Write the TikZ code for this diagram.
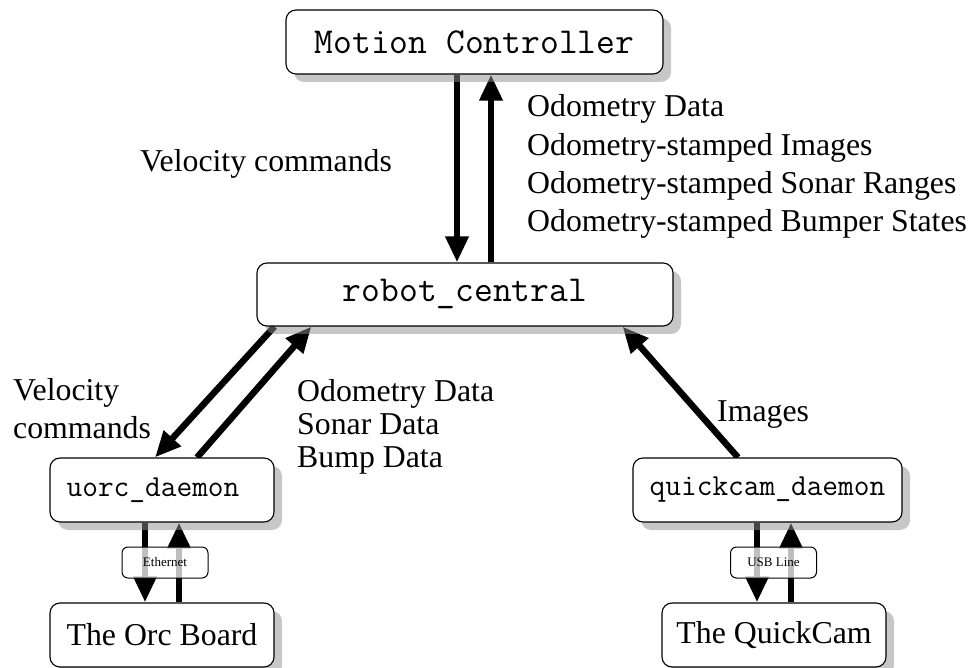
\documentclass[tikz,border=0pt]{standalone}
\usepackage{fontspec}
\setmainfont{Liberation Serif}
\usetikzlibrary{arrows.meta,shadows,backgrounds}
\tikzset{
  box/.style={draw=black, line width=1.1pt, rounded corners=10pt, fill=white,
    inner sep=0pt, minimum height=64pt,
    drop shadow={shadow xshift=8pt, shadow yshift=-8pt, fill=black!44, fill opacity=0.5}},
  bigmono/.style={font=\ttfamily\fontsize{36.5}{40}\selectfont},
  smallmono/.style={font=\ttfamily\fontsize{30.5}{34}\selectfont},
  serifbox/.style={font=\fontsize{31.8}{36}\selectfont},
  linkbox/.style={draw=black, line width=1pt, rounded corners=6pt, fill=white,
    fill opacity=0.75, text opacity=1, inner sep=0pt, minimum width=86pt,
    minimum height=31pt, font=\fontsize{13}{15}\selectfont},
  lbl/.style={font=\fontsize{31.8}{36}\selectfont, inner sep=0pt},
  flow/.style={line width=6.5pt, -{Triangle[length=26pt,width=22pt]}}
}
\begin{document}
\begin{tikzpicture}[x=1pt,y=1pt]
\useasboundingbox (0,0) rectangle (975,-668);
% boxes
\node[box, bigmono, minimum width=377pt] (mc) at (474.5,-42) {Motion Controller};
\node[box, bigmono, minimum width=416pt, minimum height=63pt] (rc) at (465,-294.5) {robot\_central};
\node[box, smallmono, minimum width=224pt] (uorc) at (162,-490) {uorc\_daemon\hspace*{18pt}};
\node[box, serifbox, minimum width=224pt] (orc) at (162,-635) {The Orc Board};
\node[box, smallmono, minimum width=269pt] (qcd) at (767.5,-490) {quickcam\_daemon};
\node[box, serifbox, minimum width=224pt] (qc) at (774,-635) {The QuickCam};
% arrows behind boxes
\begin{scope}[on background layer]
\draw[flow] ([xshift=-17.5pt]mc.south) -- ([xshift=-8pt]rc.north);
\draw[flow] ([xshift=26pt]rc.north) -- ([xshift=16.5pt]mc.south);
\draw[flow] ([xshift=18pt]rc.south west) -- ([xshift=-7pt]uorc.north);
\draw[flow] ([xshift=35pt]uorc.north) -- ([xshift=55pt]rc.south west);
\draw[flow] ([xshift=-29.5pt]qcd.north) -- ([xshift=-51pt]rc.south east);
\draw[flow] ([xshift=-17pt]uorc.south) -- ([xshift=-17pt]orc.north);
\draw[flow] ([xshift=17pt]orc.north) -- ([xshift=17pt]uorc.south);
\draw[flow] ([xshift=-10.5pt]qcd.south) -- ([xshift=-17pt]qc.north);
\draw[flow] ([xshift=17pt]qc.north) -- ([xshift=23.5pt]qcd.south);
\end{scope}
% link boxes
\node[linkbox] (eth) at (165,-562.5) {Ethernet};
\node[linkbox] (usb) at (773.5,-562.5) {USB Line};
% labels
\node[lbl, anchor=base west] (vc1) at (140,-172) {Velocity commands};
\node[lbl, anchor=base west] (od1) at (527,-117) {Odometry Data};
\node[lbl, anchor=base west] (od2) at (527,-155.5) {Odometry-stamped Images};
\node[lbl, anchor=base west] (od3) at (527,-194) {Odometry-stamped Sonar Ranges};
\node[lbl, anchor=base west] (od4) at (527,-232) {Odometry-stamped Bumper States};
\node[lbl, anchor=base west] (vc2a) at (13,-400) {Velocity};
\node[lbl, anchor=base west] (vc2b) at (13,-438) {commands};
\node[lbl, anchor=base west] (ud1) at (297,-402) {Odometry Data};
\node[lbl, anchor=base west] (ud2) at (297,-434.5) {Sonar Data};
\node[lbl, anchor=base west] (ud3) at (297,-467) {Bump Data};
\node[lbl, anchor=base west] (img) at (717,-421) {Images};
\end{tikzpicture}
\end{document}
